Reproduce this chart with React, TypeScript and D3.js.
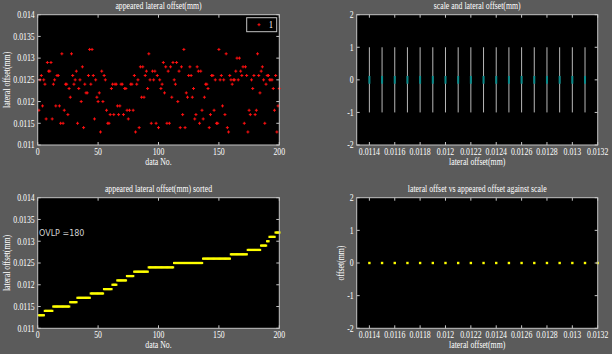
import React from "react";
import * as d3 from "d3";

const W = 612;
const H = 354;

// appeared lateral offset (mm) for data No. 1..200
const offsets: number[] = [
  0.0118, 0.0125, 0.0126, 0.0119, 0.0125, 0.0124, 0.0116, 0.0129, 0.0127, 0.0127,
  0.0129, 0.0116, 0.0124, 0.0125, 0.0119, 0.0126, 0.0126, 0.0119, 0.0115, 0.0131,
  0.0115, 0.0118, 0.0124, 0.0124, 0.0117, 0.0123, 0.0121, 0.0131, 0.0126, 0.0124,
  0.0125, 0.0127, 0.0115, 0.0123, 0.0125, 0.012, 0.0128, 0.0114, 0.0124, 0.0122,
  0.0122, 0.0126, 0.0132, 0.0124, 0.0132, 0.0126, 0.0116, 0.0125, 0.0121, 0.012,
  0.0122, 0.0113, 0.0127, 0.012, 0.0126, 0.0125, 0.0118, 0.0115, 0.0115, 0.0117,
  0.0123, 0.0124, 0.0117, 0.0124, 0.0124, 0.0119, 0.0117, 0.0119, 0.0124, 0.0124,
  0.0117, 0.0123, 0.0123, 0.0118, 0.0116, 0.0118, 0.0124, 0.0124, 0.0118, 0.0126,
  0.0113, 0.0124, 0.0125, 0.0114, 0.0128, 0.0121, 0.0128, 0.0121, 0.0126, 0.0127,
  0.0123, 0.0131, 0.0125, 0.0115, 0.0127, 0.0125, 0.0127, 0.0115, 0.0126, 0.0114,
  0.0125, 0.0123, 0.0124, 0.0129, 0.0122, 0.0128, 0.0115, 0.0127, 0.0115, 0.0128,
  0.0121, 0.0129, 0.0125, 0.0124, 0.0129, 0.012, 0.0127, 0.0114, 0.0128, 0.0117,
  0.0132, 0.0114, 0.0122, 0.0121, 0.0126, 0.0128, 0.0126, 0.0121, 0.0123, 0.0116,
  0.0117, 0.0128, 0.0127, 0.0115, 0.0127, 0.0118, 0.0116, 0.0121, 0.0124, 0.0124,
  0.0123, 0.0114, 0.0117, 0.0126, 0.0126, 0.0118, 0.0125, 0.0115, 0.0115, 0.0132,
  0.0125, 0.0126, 0.0119, 0.0125, 0.0117, 0.0131, 0.0114, 0.0113, 0.0126, 0.0125,
  0.0124, 0.0125, 0.0125, 0.0127, 0.013, 0.0125, 0.013, 0.0127, 0.0126, 0.0128,
  0.0115, 0.0128, 0.0126, 0.0113, 0.0118, 0.0117, 0.0125, 0.0123, 0.0126, 0.0117,
  0.0118, 0.0131, 0.0126, 0.0122, 0.0127, 0.0128, 0.0125, 0.0115, 0.0124, 0.0126,
  0.0126, 0.0125, 0.0125, 0.0125, 0.0123, 0.0118, 0.0126, 0.0113, 0.0119, 0.0123,
];

// scale marks (mm) drawn as vertical bars in the top-right panel
const scaleMarks: number[] = [
  0.0114, 0.0115, 0.0116, 0.0117, 0.0118, 0.0119, 0.012, 0.0121, 0.0122,
  0.0123, 0.0124, 0.0125, 0.0126, 0.0127, 0.0128, 0.0129, 0.013, 0.0131,
];
// appeared offsets against scale (x in mm, y offset)
const scalePointsX: number[] = [
  0.0114, 0.0115, 0.0116, 0.0117, 0.0118, 0.0119, 0.012, 0.0121, 0.0122, 0.0123,
  0.0124, 0.0125, 0.0126, 0.0127, 0.0128, 0.0129, 0.013, 0.0131, 0.0132,
];
const scalePointsY: number[] = [0, 0, 0, 0, 0, 0, 0, 0, 0, 0, 0, 0, 0, 0, 0, 0, 0, 0, 0];

const offsetTicks: number[] = [0.011, 0.0115, 0.012, 0.0125, 0.013, 0.0135, 0.014];
const indexTicks: number[] = [0, 50, 100, 150, 200];
const scaleXTicks: number[] = [
  0.0114, 0.0116, 0.0118, 0.012, 0.0122, 0.0124, 0.0126, 0.0128, 0.013, 0.0132,
];
const unitTicks: number[] = [-2, -1, 0, 1, 2];
const ovlpLabel = "OVLP =180";
const legendLabel = "1";

const BG = "#5b5b5b";
const FRAME = "#c4c4c4";
const TXT = "#ffffff";
const FONT = "'Liberation Serif', 'DejaVu Serif', serif";
const FS = 9.5;
const SX = 0.82;

type Box = { l: number; r: number; t: number; b: number };

const fmt = (v: number) => String(+v.toFixed(5));

function T({
  x,
  y,
  anchor,
  children,
  rotate,
  fill,
}: {
  x: number;
  y: number;
  anchor: "start" | "middle" | "end";
  children: React.ReactNode;
  rotate?: boolean;
  fill?: string;
}) {
  const tr = rotate
    ? `translate(${x},${y}) rotate(-90) scale(${SX},1)`
    : `translate(${x},${y}) scale(${SX},1)`;
  return (
    <text
      transform={tr}
      fill={fill || TXT}
      fontSize={FS}
      fontFamily={FONT}
      textAnchor={anchor}
    >
      {children}
    </text>
  );
}

function Frame({
  box,
  x,
  y,
  xTicks,
  yTicks,
  title,
  xLabel,
  yLabel,
  yLabelX,
}: {
  box: Box;
  x: d3.ScaleLinear<number, number>;
  y: d3.ScaleLinear<number, number>;
  xTicks: number[];
  yTicks: number[];
  title: string;
  xLabel: string;
  yLabel: string;
  yLabelX: number;
}) {
  const tl = 3;
  const cx = (box.l + box.r) / 2;
  const cy = (box.t + box.b) / 2;
  return (
    <g>
      <rect
        x={box.l}
        y={box.t}
        width={box.r - box.l}
        height={box.b - box.t}
        fill="none"
        stroke={FRAME}
        strokeWidth={1}
      />
      {xTicks.map((t, i) => (
        <g key={"xt" + i}>
          <line x1={x(t)} x2={x(t)} y1={box.b} y2={box.b - tl} stroke={FRAME} />
          <line x1={x(t)} x2={x(t)} y1={box.t} y2={box.t + tl} stroke={FRAME} />
          <T x={x(t)} y={box.b + 10} anchor="middle">
            {fmt(t)}
          </T>
        </g>
      ))}
      {yTicks.map((t, i) => (
        <g key={"yt" + i}>
          <line x1={box.l} x2={box.l + tl} y1={y(t)} y2={y(t)} stroke={FRAME} />
          <line x1={box.r} x2={box.r - tl} y1={y(t)} y2={y(t)} stroke={FRAME} />
          <T x={box.l - 3} y={y(t) + 3.3} anchor="end">
            {fmt(t)}
          </T>
        </g>
      ))}
      <T x={cx} y={box.t - 6} anchor="middle">
        {title}
      </T>
      <T x={cx} y={box.b + 20} anchor="middle">
        {xLabel}
      </T>
      {yLabel ? (
        <T x={yLabelX} y={cy} anchor="middle" rotate>
          {yLabel}
        </T>
      ) : null}
    </g>
  );
}

function Plus({ cx, cy, color }: { cx: number; cy: number; color: string }) {
  const a = 1.5;
  return (
    <path
      d={`M${cx - a},${cy}H${cx + a}M${cx},${cy - a}V${cy + a}`}
      stroke={color}
      strokeWidth={1}
      fill="none"
    />
  );
}

export default function App() {
  const tl: Box = { l: 37.7, r: 279.3, t: 14.7, b: 145 };
  const tr: Box = { l: 356.7, r: 597.7, t: 14.7, b: 145 };
  const bl: Box = { l: 37.7, r: 279.3, t: 197.7, b: 328.3 };
  const br: Box = { l: 356.7, r: 597.7, t: 197.7, b: 328.3 };

  const xTL = d3.scaleLinear().domain([0, 200]).range([tl.l, tl.r]);
  const yTL = d3.scaleLinear().domain([0.011, 0.014]).range([tl.b, tl.t]);
  const xTR = d3.scaleLinear().domain([0.0113, 0.0132]).range([tr.l, tr.r]);
  const yTR = d3.scaleLinear().domain([-2, 2]).range([tr.b, tr.t]);
  const xBL = d3.scaleLinear().domain([0, 200]).range([bl.l, bl.r]);
  const yBL = d3.scaleLinear().domain([0.011, 0.014]).range([bl.b, bl.t]);
  const xBR = d3.scaleLinear().domain([0.0113, 0.0132]).range([br.l, br.r]);
  const yBR = d3.scaleLinear().domain([-2, 2]).range([br.b, br.t]);

  const sorted = offsets.slice().sort(d3.ascending);

  return (
    <svg
      width={W}
      height={H}
      style={{ position: "fixed", left: 0, top: 0, display: "block" }}
    >
      <rect x={0} y={0} width={W} height={H} fill={BG} />
      {[tl, tr, bl, br].map((b, i) => (
        <rect key={i} x={b.l} y={b.t} width={b.r - b.l} height={b.b - b.t} fill="#000" />
      ))}

      {/* top-left: scatter */}
      {offsets.map((v, i) => (
        <Plus key={"p" + i} cx={xTL(i + 1)} cy={yTL(v)} color="#ff1010" />
      ))}
      <rect x={246.7} y={17.7} width={30} height={14} fill="#000" stroke={FRAME} strokeWidth={1} />
      <Plus cx={259} cy={24.7} color="#ff1010" />
      <T x={271} y={28} anchor="middle">
        {legendLabel}
      </T>
      <Frame
        box={tl}
        x={xTL}
        y={yTL}
        xTicks={indexTicks}
        yTicks={offsetTicks}
        title="appeared lateral offset(mm)"
        xLabel="data No."
        yLabel="lateral offset(mm)"
        yLabelX={9.5}
      />

      {/* top-right: scale bars */}
      {scaleMarks.map((v, i) => (
        <g key={"s" + i}>
          <line x1={xTR(v)} x2={xTR(v)} y1={yTR(-1)} y2={yTR(1)} stroke="#b8b8b8" strokeWidth={1} />
          <line
            x1={xTR(v)}
            x2={xTR(v)}
            y1={yTR(-0.12)}
            y2={yTR(0.12)}
            stroke="#0a8c8c"
            strokeWidth={2}
          />
        </g>
      ))}
      <Frame
        box={tr}
        x={xTR}
        y={yTR}
        xTicks={scaleXTicks}
        yTicks={unitTicks}
        title="scale and lateral offset(mm)"
        xLabel="lateral offset(mm)"
        yLabel=""
        yLabelX={340}
      />

      {/* bottom-left: sorted */}
      {sorted.map((v, i) => (
        <rect
          key={"q" + i}
          x={xBL(i + 1) - 1.2}
          y={yBL(v) - 1.1}
          width={2.4}
          height={2.2}
          fill="#ffff00"
        />
      ))}
      <text x={39} y={235.5} fill="#d0d0d0" fontSize={8} fontFamily="'DejaVu Sans', sans-serif">
        {ovlpLabel}
      </text>
      <Frame
        box={bl}
        x={xBL}
        y={yBL}
        xTicks={indexTicks}
        yTicks={offsetTicks}
        title="appeared lateral offset(mm) sorted"
        xLabel="data No."
        yLabel="lateral offset(mm)"
        yLabelX={9.5}
      />

      {/* bottom-right */}
      {scalePointsX.map((v, i) => (
        <rect
          key={"r" + i}
          x={xBR(v) - 1.2}
          y={yBR(scalePointsY[i]) - 1.2}
          width={2.4}
          height={2.4}
          fill="#ffff00"
        />
      ))}
      <Frame
        box={br}
        x={xBR}
        y={yBR}
        xTicks={scaleXTicks}
        yTicks={unitTicks}
        title="lateral offset vs appeared offset against scale"
        xLabel="lateral offset(mm)"
        yLabel="offset(mm)"
        yLabelX={344}
      />
    </svg>
  );
}
